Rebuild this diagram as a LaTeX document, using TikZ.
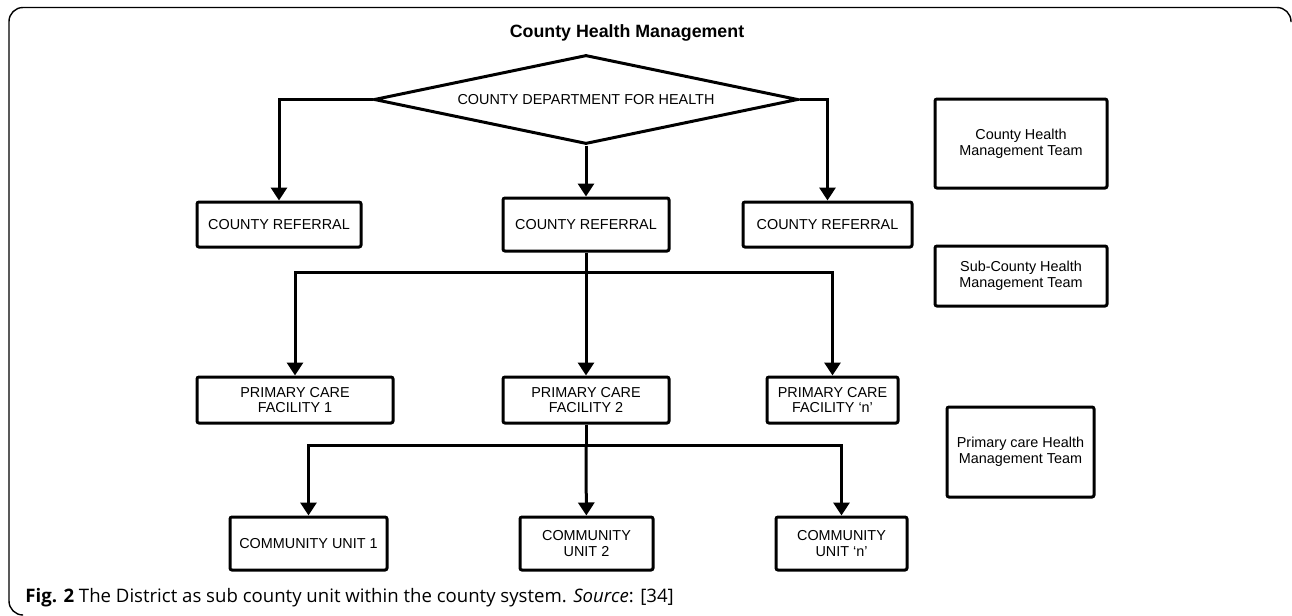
\documentclass[tikz,border=0pt]{standalone}
\usepackage{fontspec}
\setmainfont{Liberation Sans}
\newfontfamily\capfont{Open Sans}
\usetikzlibrary{shapes,arrows.meta,positioning,calc}

\begin{document}
\begin{tikzpicture}[
    x=0.5pt, y=-0.5pt,
    box/.style={rectangle, draw, line width=1.5pt, rounded corners=1pt, align=center, inner sep=1pt, font=\fontsize{7.2}{7.8}\selectfont},
    arrow/.style={-{Triangle[width=8pt,length=6.5pt]}, line width=1.5pt},
    link/.style={line width=1.5pt}
]
\useasboundingbox (0,0) rectangle (1292,616);
\draw[line width=0.7pt, rounded corners=7pt] (1291,22) -- (1291,7.5) -- (9,7.5) -- (9,615) -- (22,615);

\node[font=\bfseries\fontsize{8.9}{10}\selectfont] (title) at (627,33) {County Health Management};
\node[draw, diamond, aspect=4.8, line width=1.5pt, minimum width=212pt, minimum height=44.5pt, inner sep=0pt, font=\fontsize{7.2}{7.8}\selectfont] (dept) at (586,99.5) {COUNTY DEPARTMENT FOR HEALTH};

% county referral level
\node[box, minimum width=82pt, minimum height=22.5pt] (cr1) at (279,224.5) {COUNTY REFERRAL};
\node[box, minimum width=83pt, minimum height=26.5pt] (cr2) at (586,224.5) {COUNTY REFERRAL};
\node[box, minimum width=84.5pt, minimum height=22.5pt] (cr3) at (827.5,224.5) {COUNTY REFERRAL};

% primary care level
\node[box, minimum width=98pt, minimum height=23pt] (pcf1) at (295,400) {PRIMARY CARE\\FACILITY 1};
\node[box, minimum width=83pt, minimum height=23pt] (pcf2) at (586,400) {PRIMARY CARE\\FACILITY 2};
\node[box, minimum width=65.5pt, minimum height=23pt] (pcf3) at (832.5,400) {PRIMARY CARE\\FACILITY `n'};

% community level
\node[box, minimum width=78.5pt, minimum height=26.5pt] (cu1) at (308.5,543.5) {COMMUNITY UNIT 1};
\node[box, minimum width=66.5pt, minimum height=26.5pt] (cu2) at (586.5,543.5) {COMMUNITY\\UNIT 2};
\node[box, minimum width=65.5pt, minimum height=26.5pt] (cu3) at (841.5,543.5) {COMMUNITY\\UNIT `n'};

% management teams
\node[box, minimum width=86pt, minimum height=44.5pt] (chmt) at (1021,143.5) {County Health\\Management Team};
\node[box, minimum width=86pt, minimum height=30pt] (schmt) at (1021,276) {Sub-County Health\\Management Team};
\node[box, minimum width=73.5pt, minimum height=45pt] (phmt) at (1020.5,452) {Primary care Health\\Management Team};

\draw[arrow] (dept.west) -| (cr1);
\draw[arrow] (dept.south) -- (cr2);
\draw[arrow] (dept.east) -| (cr3);

\coordinate (split1) at (586,272);
\draw[link] (cr2) -- (split1);
\draw[arrow] (split1) -| (pcf1);
\draw[arrow] (split1) -- (pcf2);
\draw[arrow] (split1) -| (pcf3);

\coordinate (split2) at (586,445);
\draw[link] (pcf2) -- (split2);
\draw[arrow] (split2) -| (cu1);
\draw[arrow] (split2) -- (cu2);
\draw[arrow] (split2) -| (cu3);

\node[anchor=west, inner sep=0pt, font=\capfont\fontsize{9.3}{11}\selectfont] (caption) at (25,598) {\textbf{Fig. 2} The District as sub county unit within the county system. \textit{Source}: [34]};
\end{tikzpicture}
\end{document}
